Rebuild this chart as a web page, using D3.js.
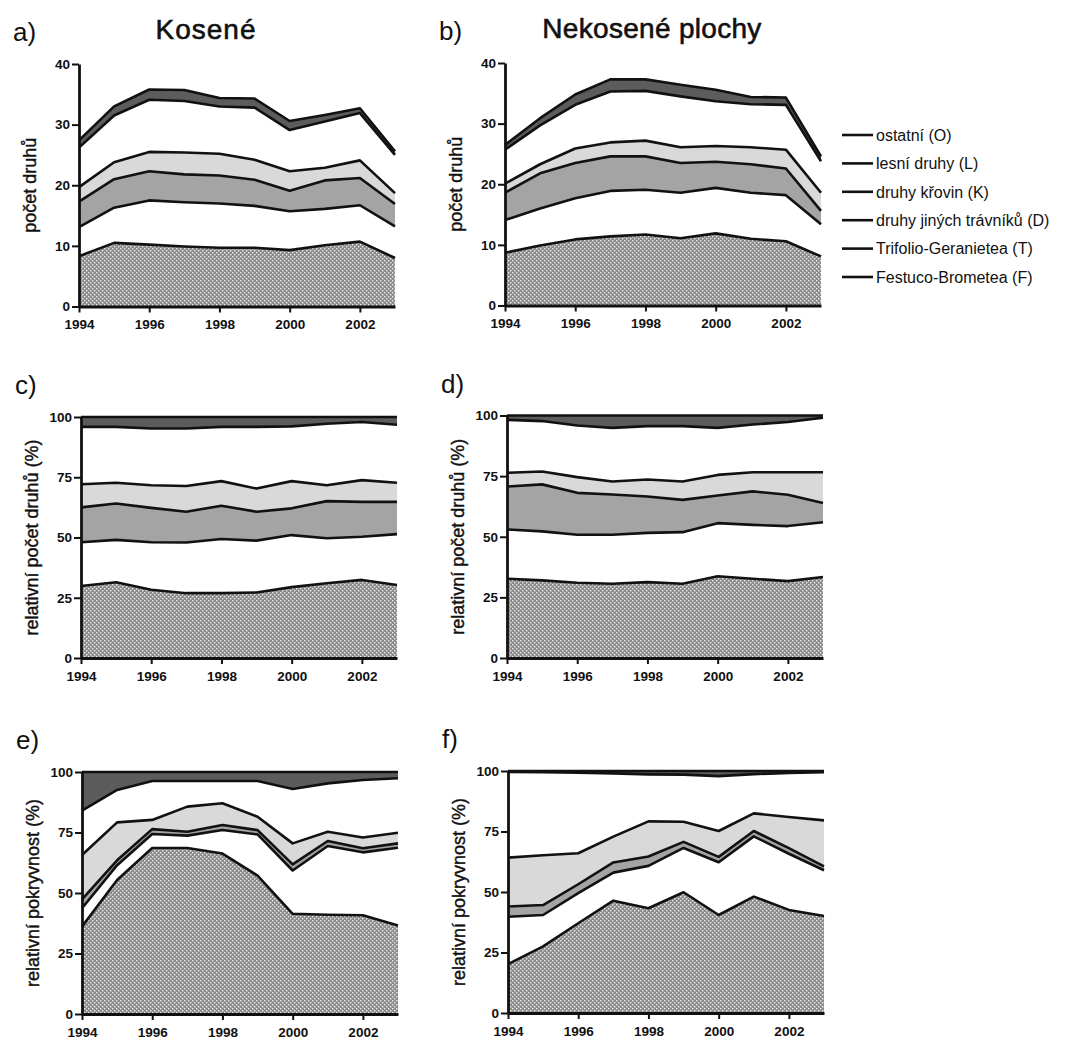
<!DOCTYPE html>
<html>
<head>
<meta charset="utf-8">
<script src="https://cdn.jsdelivr.net/npm/d3@7/dist/d3.min.js"></script>
<style>
body { margin: 0; background: #fff; }
svg { display: block; font-family: "Liberation Sans", Arial, sans-serif; }
</style>
</head>
<body>
<svg id="chart" width="1065" height="1041"></svg>
<script>
// Years and ticks
var years = [1994, 1995, 1996, 1997, 1998, 1999, 2000, 2001, 2002, 2003];
var yearTicks = [1994, 1996, 1998, 2000, 2002];

// stack order bottom -> top: F, T, D, K, L, O
var seriesKeys = ["F", "T", "D", "K", "L", "O"];
var legendLabels = ["ostatní (O)", "lesní druhy (L)", "druhy křovin (K)",
    "druhy jiných trávníků (D)", "Trifolio-Geranietea (T)", "Festuco-Brometea (F)"];

// a) Kosené - počet druhů
var pocetKosene = [
    [8.3, 10.5, 10.2, 9.9, 9.7, 9.7, 9.3, 10.1, 10.7, 8.0],
    [4.8, 5.8, 7.3, 7.3, 7.3, 6.9, 6.4, 6.0, 6.0, 5.2],
    [4.2, 4.7, 4.8, 4.6, 4.6, 4.3, 3.4, 4.7, 4.5, 3.7],
    [2.4, 2.8, 3.2, 3.6, 3.6, 3.3, 3.2, 2.1, 2.9, 1.8],
    [6.5, 7.7, 8.6, 8.5, 7.8, 8.6, 6.8, 7.6, 7.8, 6.3],
    [1.2, 1.5, 1.7, 1.8, 1.4, 1.5, 1.5, 1.1, 0.8, 0.6]
];
// b) Nekosené plochy - počet druhů
var pocetNekosene = [
    [8.7, 9.9, 10.9, 11.4, 11.7, 11.1, 11.9, 11.0, 10.6, 8.1],
    [5.4, 6.1, 6.8, 7.5, 7.4, 7.5, 7.5, 7.6, 7.6, 5.3],
    [4.5, 5.8, 5.8, 5.7, 5.5, 4.9, 4.3, 4.7, 4.4, 2.2],
    [1.5, 1.5, 2.4, 2.3, 2.6, 2.6, 2.6, 2.8, 3.1, 3.0],
    [5.6, 6.4, 7.2, 8.4, 8.2, 8.4, 7.4, 7.1, 7.4, 5.2],
    [0.8, 1.2, 1.7, 2.0, 1.9, 1.9, 1.9, 1.2, 1.2, 0.8]
];
// c) Kosené - relativní počet druhů (%)
var relPocetKosene = [
    [29.9, 31.4, 28.3, 26.9, 26.9, 27.2, 29.4, 31.0, 32.4, 30.3],
    [18.1, 17.6, 19.7, 21.0, 22.5, 21.5, 21.6, 18.7, 17.9, 21.1],
    [14.5, 15.1, 14.3, 12.8, 13.8, 12.0, 11.1, 15.4, 14.5, 13.4],
    [9.6, 8.6, 9.4, 10.7, 10.2, 9.6, 11.3, 6.6, 9.0, 7.9],
    [23.8, 23.2, 23.5, 23.8, 22.5, 25.6, 22.7, 25.5, 24.1, 24.1],
    [4.1, 4.1, 4.8, 4.8, 4.1, 4.1, 3.9, 2.8, 2.1, 3.2]
];
// d) Nekosené - relativní počet druhů (%)
var relPocetNekosene = [
    [32.7, 32.0, 31.0, 30.6, 31.3, 30.6, 33.7, 32.7, 31.7, 33.4],
    [20.3, 20.2, 19.8, 20.2, 20.3, 21.3, 21.9, 22.2, 22.7, 22.6],
    [17.7, 19.4, 17.3, 16.6, 15.0, 13.3, 11.4, 13.8, 12.9, 7.9],
    [5.7, 5.3, 6.5, 5.4, 7.0, 7.6, 8.5, 7.9, 9.3, 12.7],
    [21.8, 20.8, 21.3, 22.1, 22.0, 22.8, 19.4, 19.7, 20.7, 22.5],
    [1.8, 2.3, 4.1, 5.1, 4.4, 4.4, 5.1, 3.7, 2.7, 0.9]
];
// e) Kosené - relativní pokryvnost (%)
var pokryvnostKosene = [
    [36.1, 55.4, 68.6, 68.6, 66.3, 57.2, 41.4, 41.0, 40.8, 36.6],
    [7.6, 6.1, 5.8, 5.1, 9.7, 17.0, 17.9, 28.4, 26.0, 32.1],
    [3.7, 2.0, 2.0, 1.6, 2.1, 1.8, 2.5, 2.1, 1.7, 1.8],
    [18.3, 15.7, 3.8, 10.4, 9.0, 5.5, 8.7, 3.8, 4.4, 4.4],
    [18.3, 13.4, 16.1, 10.6, 9.2, 14.8, 22.5, 20.0, 23.8, 22.5],
    [16.0, 7.4, 3.7, 3.7, 3.7, 3.7, 7.0, 4.7, 3.3, 2.6]
];
// f) Nekosené - relativní pokryvnost (%)
var pokryvnostNekosene = [
    [20.2, 27.5, 37.1, 46.4, 43.3, 49.9, 40.5, 48.1, 42.6, 40.1],
    [19.6, 13.0, 12.4, 11.6, 17.5, 18.3, 21.8, 24.9, 23.2, 18.9],
    [4.2, 4.1, 3.7, 4.2, 3.9, 2.5, 2.2, 2.2, 2.3, 1.6],
    [20.2, 20.6, 12.8, 10.7, 14.5, 8.3, 10.7, 7.3, 12.9, 19.0],
    [35.4, 34.3, 33.3, 26.1, 19.4, 19.5, 22.7, 16.2, 18.2, 19.9],
    [0.4, 0.5, 0.7, 1.0, 1.4, 1.5, 2.1, 1.3, 0.8, 0.5]
];

var countTicks = [0, 10, 20, 30, 40];
var percentTicks = [0, 25, 50, 75, 100];

var svg = d3.select("#chart");

// dotted fill for Festuco-Brometea
var defs = svg.append("defs");
var pat = defs.append("pattern")
    .attr("id", "dots")
    .attr("patternUnits", "userSpaceOnUse")
    .attr("width", 4).attr("height", 4);
pat.append("rect").attr("width", 4).attr("height", 4).attr("fill", "#8b8b8b");
pat.append("rect").attr("x", 0).attr("y", 0).attr("width", 1.4).attr("height", 1.4).attr("fill", "#ececec");
pat.append("rect").attr("x", 2).attr("y", 2).attr("width", 1.4).attr("height", 1.4).attr("fill", "#ececec");

var fills = ["url(#dots)", "#ffffff", "#a4a4a4", "#d9d9d9", "#ffffff", "#5c5c5c"];

var plotW = 316;
var panels = [
    {letter: "a)", values: pocetKosene, left: 79, top: 64, bottom: 306.5, max: 40, ticks: countTicks, label: "počet druhů"},
    {letter: "b)", values: pocetNekosene, left: 505, top: 63, bottom: 305.5, max: 40, ticks: countTicks, label: "počet druhů"},
    {letter: "c)", values: relPocetKosene, left: 81, top: 417, bottom: 658, max: 100, ticks: percentTicks, label: "relativní počet druhů (%)"},
    {letter: "d)", values: relPocetNekosene, left: 507, top: 415.5, bottom: 658, max: 100, ticks: percentTicks, label: "relativní počet druhů (%)"},
    {letter: "e)", values: pokryvnostKosene, left: 82, top: 772, bottom: 1014, max: 100, ticks: percentTicks, label: "relativní pokryvnost (%)"},
    {letter: "f)", values: pokryvnostNekosene, left: 508, top: 771, bottom: 1013, max: 100, ticks: percentTicks, label: "relativní pokryvnost (%)"}
];

function drawPanel(p) {
    var g = svg.append("g");
    var x = d3.scaleLinear().domain([years[0], years[years.length - 1]]).range([p.left, p.left + plotW]);
    var y = d3.scaleLinear().domain([0, p.max]).range([p.bottom, p.top]);

    var rows = years.map(function(yr, i) {
        var r = {year: yr};
        seriesKeys.forEach(function(k, j) { r[k] = p.values[j][i]; });
        return r;
    });
    var stacked = d3.stack().keys(seriesKeys)(rows);

    var area = d3.area()
        .x(function(d) { return x(d.data.year); })
        .y0(function(d) { return y(d[0]); })
        .y1(function(d) { return y(d[1]); });
    var edge = d3.line()
        .x(function(d) { return x(d.data.year); })
        .y(function(d) { return y(d[1]); });

    g.selectAll(".layer").data(stacked).join("path")
        .attr("class", "layer")
        .attr("d", area)
        .attr("fill", function(d, i) { return fills[i]; });

    g.selectAll(".edge").data(stacked).join("path")
        .attr("class", "edge")
        .attr("d", edge)
        .attr("fill", "none")
        .attr("stroke", "#111")
        .attr("stroke-width", 2.6)
        .attr("stroke-linejoin", "round");

    var yAxis = g.append("g")
        .attr("transform", "translate(" + p.left + ",0)")
        .call(d3.axisLeft(y).tickValues(p.ticks).tickSize(7).tickPadding(2).tickSizeOuter(0));
    var xAxis = g.append("g")
        .attr("transform", "translate(0," + p.bottom + ")")
        .call(d3.axisBottom(x).tickValues(yearTicks).tickFormat(d3.format("d"))
            .tickSize(6).tickPadding(7).tickSizeOuter(0));

    [yAxis, xAxis].forEach(function(ax) {
        ax.select(".domain").attr("stroke", "#111").attr("stroke-width", 2.8);
        ax.selectAll(".tick line").attr("stroke", "#111").attr("stroke-width", 2);
        ax.selectAll("text")
            .attr("fill", "#111")
            .style("font-size", "13.5px")
            .style("font-weight", "bold")
            .style("font-family", "'Liberation Sans', Arial, sans-serif");
    });

    // scanned print looks a little heavier than plain regular weight
    g.append("text")
        .attr("transform", "translate(" + (p.left - 43) + "," + ((p.top + p.bottom) / 2) + ") rotate(-90)")
        .attr("text-anchor", "middle")
        .attr("fill", "#111")
        .attr("stroke", "#111")
        .attr("stroke-width", 0.4)
        .style("font-size", "18px")
        .text(p.label);

    g.append("text")
        .attr("x", p.left - 66)
        .attr("y", p.top - 23)
        .attr("fill", "#111")
        .style("font-size", "26px")
        .text(p.letter);
}

panels.forEach(drawPanel);

// column titles
svg.append("text")
    .attr("x", 206).attr("y", 39)
    .attr("text-anchor", "middle")
    .attr("fill", "#111")
    .attr("stroke", "#111")
    .attr("stroke-width", 0.6)
    .style("font-size", "28px")
    .style("letter-spacing", "1px")
    .text("Kosené");
svg.append("text")
    .attr("x", 652).attr("y", 38)
    .attr("text-anchor", "middle")
    .attr("fill", "#111")
    .attr("stroke", "#111")
    .attr("stroke-width", 0.6)
    .style("font-size", "28px")
    .style("letter-spacing", "0.3px")
    .text("Nekosené plochy");

// legend
var legendY = d3.scalePoint().domain(legendLabels).range([135, 277]);
var legend = svg.append("g");
legend.selectAll("line").data(legendLabels).join("line")
    .attr("x1", 842).attr("x2", 873)
    .attr("y1", function(d) { return legendY(d); })
    .attr("y2", function(d) { return legendY(d); })
    .attr("stroke", "#111")
    .attr("stroke-width", 2.6);
legend.selectAll("text").data(legendLabels).join("text")
    .attr("x", 876)
    .attr("y", function(d) { return legendY(d); })
    .attr("dy", "0.36em")
    .attr("fill", "#111")
    .style("font-size", "16px")
    .text(function(d) { return d; });
</script>
</body>
</html>
